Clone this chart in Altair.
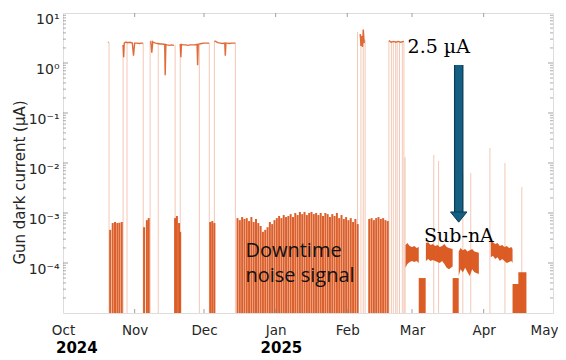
import altair as alt
import pandas as pd

ORANGE = "#D95319"
FLOOR = 1e-5
W, H = 490, 300

# ---------------- data ----------------
# operating periods (~2.5 uA) : segment id, time, value
op_segment = [0, 0,
              1, 1, 1, 1, 1, 1, 1, 1, 1, 1, 1, 1, 1, 1,
              2, 2, 2, 2, 2, 2, 2, 2, 2, 2, 2, 2, 2, 2, 2, 2,
              3, 3, 3, 3, 3, 3, 3, 3, 3, 3, 3, 3, 3, 3, 3, 3, 3,
              4, 4, 4, 4, 4, 4, 4, 4, 4, 4, 4, 4, 4,
              5, 5, 5, 5, 5, 5,
              6, 6, 6, 6, 6, 6, 6]
op_dates = ["2024-10-20T10:00", "2024-10-20T16:00",
            "2024-10-27T00:00", "2024-10-27T06:00", "2024-10-27T12:00", "2024-10-28T00:00",
            "2024-10-28T12:00", "2024-10-29T00:00", "2024-10-30T00:00", "2024-10-31T00:00",
            "2024-10-31T12:00", "2024-11-01T00:00", "2024-11-02T00:00", "2024-11-03T00:00",
            "2024-11-04T00:00", "2024-11-04T16:00",
            "2024-11-07T18:00", "2024-11-08T00:00", "2024-11-08T10:00", "2024-11-08T20:00",
            "2024-11-09T00:00", "2024-11-10T00:00", "2024-11-11T00:00", "2024-11-12T00:00",
            "2024-11-13T00:00", "2024-11-14T00:00", "2024-11-14T05:00", "2024-11-14T12:00",
            "2024-11-15T00:00", "2024-11-16T00:00", "2024-11-17T00:00", "2024-11-18T00:00",
            "2024-11-20T18:00", "2024-11-21T00:00", "2024-11-21T06:00", "2024-11-22T00:00",
            "2024-11-23T00:00", "2024-11-24T00:00", "2024-11-25T00:00", "2024-11-26T00:00",
            "2024-11-27T00:00", "2024-11-28T00:00", "2024-11-28T06:00", "2024-11-28T12:00",
            "2024-11-29T00:00", "2024-11-30T00:00", "2024-12-01T00:00", "2024-12-02T00:00",
            "2024-12-03T06:00",
            "2024-12-05T12:00", "2024-12-06T00:00", "2024-12-07T00:00", "2024-12-08T00:00",
            "2024-12-09T00:00", "2024-12-10T00:00", "2024-12-10T05:00", "2024-12-10T12:00",
            "2024-12-11T00:00", "2024-12-12T00:00", "2024-12-13T00:00", "2024-12-14T00:00",
            "2024-12-14T14:00",
            "2025-02-06T14:00", "2025-02-06T22:00", "2025-02-07T06:00", "2025-02-07T14:00",
            "2025-02-07T22:00", "2025-02-08T08:00",
            "2025-02-19T00:00", "2025-02-20T00:00", "2025-02-21T00:00", "2025-02-22T00:00",
            "2025-02-23T00:00", "2025-02-24T00:00", "2025-02-25T12:00"]
op_values = [2.6, 2.6,
             2.3, 1.3, 2.5, 2.6, 2.6, 2.55, 2.6, 2.5, 1.4, 2.5, 2.5, 2.45, 2.5, 2.5,
             2.7, 2.7, 1.6, 2.65, 2.6, 2.5, 2.45, 2.4, 2.4, 2.35, 0.57, 2.35, 2.3, 2.25, 2.3, 2.25,
             2.4, 1.3, 2.35, 2.3, 2.3, 2.25, 2.3, 2.3, 2.3, 2.35, 0.9, 2.35, 2.4, 2.45, 2.5, 2.5, 2.5,
             2.75, 2.7, 2.55, 2.5, 2.45, 2.5, 1.4, 2.5, 2.5, 2.45, 2.5, 2.5, 2.5,
             3.8, 2.2, 3.5, 2.1, 4.6, 2.5,
             2.8, 2.6, 2.7, 2.6, 2.7, 2.6, 2.7]

# faint vertical transitions / spikes (from the floor up to the value)
tr_dates = ["2024-10-20T22:00", "2024-10-27T00:00", "2024-10-28T17:00", "2024-11-04T17:00",
            "2024-11-07T17:00", "2024-11-11T05:00", "2024-11-18T12:00", "2024-11-20T17:00",
            "2024-11-29T00:00", "2024-12-03T07:00", "2024-12-05T12:00", "2024-12-14T14:00",
            "2025-02-05T10:00", "2025-02-06T22:00", "2025-02-07T22:00", "2025-02-08T17:00",
            "2025-02-19T00:00", "2025-02-20T02:00", "2025-02-20T22:00", "2025-02-21T22:00",
            "2025-02-22T14:00", "2025-02-23T14:00", "2025-02-24T19:00", "2025-02-25T12:00",
            "2025-02-26T00:00", "2025-03-10T10:00", "2025-03-12T12:00", "2025-03-23T00:00",
            "2025-03-26T10:00", "2025-04-03T17:00", "2025-04-10T05:00", "2025-04-17T12:00"]
tr_tops = [2.6, 2.3, 2.6, 2.5, 2.7, 2.4, 2.3, 2.4, 2.3, 2.5, 2.7, 2.5,
           4.2, 3.0, 4.8, 2.9,
           2.8, 2.7, 2.6, 2.7, 2.6, 2.6, 2.7, 2.6,
           0.013, 0.0145, 0.011, 0.0058, 0.0063, 0.02, 0.01, 0.0033]

# downtime noise (short blocks between runs)
noise_dates = ["2024-10-21T10:00", "2024-10-22T12:00", "2024-10-23T12:00", "2024-10-24T12:00",
               "2024-10-25T10:00", "2024-10-26T10:00",
               "2024-11-05T02:00", "2024-11-06T07:00", "2024-11-07T02:00",
               "2024-11-18T12:00", "2024-11-19T07:00", "2024-11-20T05:00", "2024-11-20T17:00",
               "2024-12-03T17:00", "2024-12-04T14:00", "2024-12-05T12:00"]
noise_tops = [4.6e-4, 6.3e-4, 6.6e-4, 6.3e-4, 6.4e-4, 6.6e-4,
              5.2e-4, 7.2e-4, 7.9e-4,
              7.9e-4, 8.7e-4, 6.3e-4, 4.2e-4,
              6.6e-4, 6.9e-4, 6.3e-4]

# long holiday downtime, one value per day from 15 Dec 2024 (0 = no noise that day)
long_noise_start = "2024-12-15"
long_noise_tops = [7.9e-4, 7.2e-4, 8.3e-4, 7.6e-4, 7.9e-4, 6.9e-4, 8.3e-4, 6.6e-4, 7.6e-4, 6.3e-4,
                   5.5e-4, 4.2e-4, 4.6e-4, 5.2e-4, 6.6e-4, 6.0e-4, 7.2e-4, 7.9e-4, 8.7e-4, 7.9e-4,
                   9.1e-4, 8.3e-4, 8.7e-4, 9.5e-4, 8.3e-4, 1.0e-3, 9.1e-4, 1.05e-3, 9.5e-4, 1.05e-3,
                   9.1e-4, 1.0e-3, 1.05e-3, 9.5e-4, 1.0e-3, 9.1e-4, 1.0e-3, 8.7e-4, 1.0e-3, 9.5e-4,
                   8.3e-4, 9.5e-4, 8.7e-4, 1.0e-3, 7.9e-4, 9.1e-4, 7.6e-4, 8.3e-4, 7.2e-4, 7.9e-4,
                   6.6e-4, 7.6e-4, 6.0e-4, 0, 0, 0, 0, 7.6e-4, 7.9e-4, 7.2e-4,
                   7.9e-4, 8.3e-4, 7.6e-4, 7.9e-4, 7.2e-4, 6.9e-4]

# sub-nA running periods (noisy band) and low downtime blocks
band_segment = ["A"] * 7 + ["L1"] * 2 + ["B"] * 12 + ["L2"] * 2 + ["C"] * 9 + ["D"] * 11 + ["L3"] * 4
band_dates = ["2025-02-26T05:00", "2025-02-27T00:00", "2025-02-28T00:00", "2025-03-01T00:00",
              "2025-03-02T00:00", "2025-03-03T00:00", "2025-03-03T22:00",
              "2025-03-03T22:00", "2025-03-06T22:00",
              "2025-03-07T00:00", "2025-03-08T00:00", "2025-03-09T00:00", "2025-03-10T00:00",
              "2025-03-11T00:00", "2025-03-12T00:00", "2025-03-13T00:00", "2025-03-14T00:00",
              "2025-03-15T00:00", "2025-03-16T00:00", "2025-03-17T00:00", "2025-03-18T14:00",
              "2025-03-18T14:00", "2025-03-21T05:00",
              "2025-03-21T05:00", "2025-03-22T00:00", "2025-03-23T00:00", "2025-03-24T00:00",
              "2025-03-25T00:00", "2025-03-26T00:00", "2025-03-27T00:00", "2025-03-28T00:00",
              "2025-03-29T22:00",
              "2025-04-04T02:00", "2025-04-05T00:00", "2025-04-06T00:00", "2025-04-07T00:00",
              "2025-04-08T00:00", "2025-04-09T00:00", "2025-04-10T00:00", "2025-04-11T00:00",
              "2025-04-12T00:00", "2025-04-13T00:00", "2025-04-13T12:00",
              "2025-04-13T12:00", "2025-04-16T00:00", "2025-04-16T00:00", "2025-04-19T12:00"]
band_upper = [2.3e-4, 2.5e-4, 2.2e-4, 2.1e-4, 2.2e-4, 2.0e-4, 2.1e-4,
              5.0e-5, 5.0e-5,
              2.5e-4, 2.6e-4, 2.3e-4, 2.4e-4, 2.2e-4, 2.3e-4, 2.1e-4, 2.2e-4, 2.4e-4, 2.1e-4,
              2.0e-4, 1.9e-4,
              5.0e-5, 5.0e-5,
              1.7e-4, 2.0e-4, 1.8e-4, 1.9e-4, 1.7e-4, 1.8e-4, 1.9e-4, 1.7e-4, 1.6e-4,
              2.7e-4, 2.6e-4, 2.4e-4, 2.5e-4, 2.2e-4, 2.3e-4, 2.1e-4, 2.2e-4, 2.0e-4, 2.1e-4, 1.9e-4,
              3.8e-5, 3.8e-5, 6.5e-5, 6.5e-5]
band_lower = [8.0e-5, 9.5e-5, 1.05e-4, 1.1e-4, 1.05e-4, 1.1e-4, 1.0e-4,
              1e-5, 1e-5,
              1.1e-4, 1.2e-4, 1.1e-4, 1.15e-4, 1.1e-4, 1.05e-4, 1.0e-4, 1.1e-4, 9.5e-5, 8.0e-5,
              7.5e-5, 8.5e-5,
              1e-5, 1e-5,
              5.5e-5, 7.5e-5, 6.5e-5, 8.0e-5, 6.5e-5, 5.5e-5, 7.5e-5, 6.5e-5, 6.0e-5,
              1.3e-4, 1.4e-4, 1.2e-4, 1.3e-4, 1.1e-4, 1.2e-4, 1.1e-4, 1.0e-4, 1.05e-4, 1.1e-4, 1.0e-4,
              1e-5, 1e-5, 1e-5, 1e-5]

# annotations
ann_text = ["2.5 \u00b5A", "Sub-nA"]
ann_dates = ["2025-02-27T02:00", "2025-03-06T05:00"]
ann_values = [1.62, 2.67e-4]
note_text = ["Downtime", "noise signal"]
note_dates = ["2024-12-18T22:00", "2024-12-18T22:00"]
note_values = [1.3e-4, 4.23e-5]
arrow_date = "2025-03-21T05:00"
arrow_from, arrow_to, arrow_head = 0.91, 1.05e-3, 8.3e-4

# axes
y_tick_values = [1e-4, 1e-3, 1e-2, 1e-1, 1, 10]
y_tick_labels = ["10\u207b\u2074", "10\u207b\u00b3", "10\u207b\u00b2", "10\u207b\u00b9", "10\u2070", "10\u00b9"]
month_dates = ["2024-10-01", "2024-11-01", "2024-12-01", "2025-01-01", "2025-02-01",
               "2025-03-01", "2025-04-01", "2025-05-01"]
year_text = ["2024", "2025"]
year_dates = ["2024-10-07T00:00", "2025-01-03T12:00"]

# ---------------- build ----------------
def dt(s):
    t = pd.Timestamp(s)
    return alt.DateTime(year=t.year, month=t.month, date=t.day)

x_scale = alt.Scale(domain=[dt(month_dates[0]), dt(month_dates[-1])])
y_scale = alt.Scale(type="log", domain=[FLOOR, 10], nice=False)

label_expr = " : ".join(
    f"abs(datum.value - {v}) < {v * 0.1} ? '{l}'" for v, l in zip(y_tick_values, y_tick_labels)
) + " : ''"

x_axis = alt.Axis(values=[dt(m) for m in month_dates], format="%b", title=None,
                  ticks=False, domain=False, grid=False, labelFont="DejaVu Sans",
                  labelFontSize=13.5, labelColor="#262626", labelPadding=10,
                  labelFlush=False, labelOverlap=False,
                  labelOffset={"condition": {"test": "month(datum.value) == 4", "value": -9},
                               "value": 0})
y_axis = alt.Axis(values=y_tick_values, labelExpr=label_expr, title="Gun dark current (\u00b5A)",
                  ticks=False, domain=False, grid=False, labelFont="DejaVu Sans",
                  labelFontSize=14, labelColor="#262626", labelPadding=4, labelOffset=6,
                  labelFlush=False,
                  titleFont="DejaVu Sans", titleFontSize=15, titleFontWeight="normal",
                  titleColor="#262626", titleX=-44, titleY=169, titleBaseline="middle")

X = alt.X("t:T", scale=x_scale, axis=x_axis)
def Y(f):
    return alt.Y(f, scale=y_scale, axis=y_axis)

tr_df = pd.DataFrame({"t": tr_dates, "v": tr_tops})
op_df = pd.DataFrame({"t": op_dates, "v": op_values, "seg": op_segment})
ln_dates = pd.date_range(long_noise_start, periods=len(long_noise_tops), freq="D") + pd.Timedelta(hours=12)
noise_df = pd.concat([
    pd.DataFrame({"t": noise_dates, "v": noise_tops}),
    pd.DataFrame({"t": ln_dates.strftime("%Y-%m-%dT%H:%M"), "v": long_noise_tops}),
])
noise_df = noise_df[noise_df["v"] > 0]
band_df = pd.DataFrame({"t": band_dates, "hi": band_upper, "lo": band_lower, "seg": band_segment})

transitions = alt.Chart(tr_df).mark_rule(color=ORANGE, opacity=0.32, strokeWidth=1).encode(
    x=X, y=Y("v:Q"), y2=alt.datum(FLOOR))
noise = alt.Chart(noise_df).mark_rule(color=ORANGE, opacity=0.92, strokeWidth=2.0).encode(
    x=X, y=Y("v:Q"), y2=alt.datum(FLOOR))
bands = alt.Chart(band_df).mark_area(color=ORANGE, opacity=0.95).encode(
    x=X, y=Y("hi:Q"), y2="lo:Q", detail="seg:N")
op = alt.Chart(op_df).mark_line(color=ORANGE, strokeWidth=1.4, opacity=0.85).encode(
    x=X, y=Y("v:Q"), detail="seg:N")

# inward ticks (MATLAB style box)
minor = [k * 10.0 ** e for e in range(-5, 1) for k in range(2, 10)]
minor_df = pd.DataFrame({"v": minor})
major_df = pd.DataFrame({"v": [1e-4, 1e-3, 1e-2, 1e-1, 1]})
tick_col = "#8a8a8a"
ticks = [
    alt.Chart(minor_df).mark_rule(color=tick_col, strokeWidth=0.7).encode(
        y=Y("v:Q"), x=alt.value(0), x2=alt.value(3)),
    alt.Chart(minor_df).mark_rule(color=tick_col, strokeWidth=0.7).encode(
        y=Y("v:Q"), x=alt.value(W - 3), x2=alt.value(W)),
    alt.Chart(major_df).mark_rule(color=tick_col, strokeWidth=0.8).encode(
        y=Y("v:Q"), x=alt.value(0), x2=alt.value(5)),
    alt.Chart(major_df).mark_rule(color=tick_col, strokeWidth=0.8).encode(
        y=Y("v:Q"), x=alt.value(W - 5), x2=alt.value(W)),
    alt.Chart(pd.DataFrame({"t": month_dates[1:-1]})).mark_rule(color=tick_col, strokeWidth=0.8).encode(
        x=X, y=alt.value(H - 4), y2=alt.value(H)),
    alt.Chart(pd.DataFrame({"t": month_dates[1:-1]})).mark_rule(color=tick_col, strokeWidth=0.8).encode(
        x=X, y=alt.value(0), y2=alt.value(4)),
]

ann = alt.Chart(pd.DataFrame({"t": ann_dates, "v": ann_values, "s": ann_text})).mark_text(
    font="DejaVu Serif", fontSize=19, align="left", baseline="alphabetic", color="#000000").encode(
    x=X, y=Y("v:Q"), text="s:N")
notes = alt.Chart(pd.DataFrame({"t": note_dates, "v": note_values, "s": note_text})).mark_text(
    font="Open Sans", fontSize=20, align="left", baseline="alphabetic", color="#111111").encode(
    x=X, y=Y("v:Q"), text="s:N")
years = alt.Chart(pd.DataFrame({"t": year_dates, "s": year_text})).mark_text(
    font="DejaVu Sans", fontSize=15, fontWeight="bold", align="center", baseline="middle",
    color="#000000").encode(x=X, y=alt.value(H + 35), text="s:N")

arrow_df = pd.DataFrame({"t": [arrow_date], "a": [arrow_from], "b": [arrow_to], "h": [arrow_head]})
arrow_border = alt.Chart(arrow_df).mark_rule(color="#0c3d56", strokeWidth=9.5).encode(
    x=X, y=Y("a:Q"), y2="b:Q")
arrow_shaft = alt.Chart(arrow_df).mark_rule(color="#156082", strokeWidth=7).encode(
    x=X, y=Y("a:Q"), y2="b:Q")
arrow_head_m = alt.Chart(arrow_df).mark_point(
    shape="M-1,-0.62L1,-0.62L0,0.62Z", size=270, filled=True, fill="#156082",
    stroke="#0c3d56", strokeWidth=1, opacity=1).encode(x=X, y=Y("h:Q"))

chart = alt.layer(
    transitions, noise, bands, op, *ticks, notes, ann, years,
    arrow_border, arrow_shaft, arrow_head_m,
).properties(
    width=W, height=H,
    autosize=alt.AutoSizeParams(type="none"),
    padding={"left": 55, "top": 5, "right": 5, "bottom": 47},
).configure_view(stroke="#c4c4c4", strokeWidth=1).configure(background="white")

chart.save("out.html", embed_options={"renderer": "svg", "actions": False})
